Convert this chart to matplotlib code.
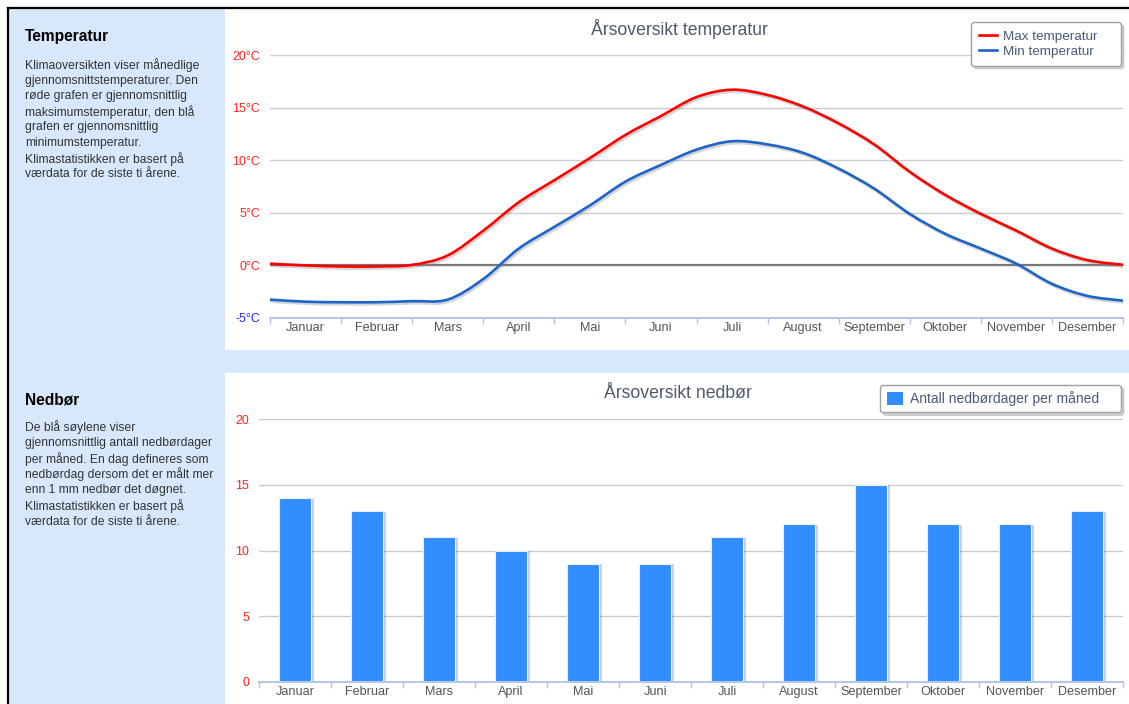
import matplotlib
matplotlib.use("Agg")
import matplotlib.pyplot as plt
import matplotlib.patheffects as pe
from matplotlib.patches import Rectangle, Patch, PathPatch
from matplotlib.lines import Line2D
from matplotlib.path import Path
import numpy as np

plt.rcParams['font.family'] = ['Liberation Sans', 'DejaVu Sans']

W, H = 1129, 704

months = ["Januar", "Februar", "Mars", "April", "Mai", "Juni", "Juli",
          "August", "September", "Oktober", "November", "Desember"]

# temperatur lest av ved hver halve måned, fra start januar (0) til slutt desember (12)
temp_pos = np.arange(0, 12.5, 0.5)
max_temp = [0.16, 0.0, -0.1, -0.1, 0.05, 0.95, 3.3, 6.0, 8.1, 10.2, 12.4, 14.2, 16.0,
            16.7, 16.2, 15.1, 13.5, 11.5, 8.9, 6.7, 4.9, 3.3, 1.6, 0.5, 0.06]
min_temp = [-3.25, -3.45, -3.5, -3.5, -3.4, -3.25, -1.3, 1.6, 3.66, 5.7, 7.96, 9.55, 11.0,
            11.8, 11.5, 10.7, 9.2, 7.3, 4.9, 3.0, 1.6, 0.16, -1.75, -2.9, -3.35]

rain_days = [14, 13, 11, 10, 9, 9, 11, 12, 15, 12, 12, 13]

temp_ticks = [-5, 0, 5, 10, 15, 20]
temp_labels = ["-5°C", "0°C", "5°C", "10°C", "15°C", "20°C"]
rain_ticks = [0, 5, 10, 15, 20]

temp_text = ["Klimaoversikten viser månedlige",
             "gjennomsnittstemperaturer. Den",
             "røde grafen er gjennomsnittlig",
             "maksimumstemperatur, den blå",
             "grafen er gjennomsnittlig",
             "minimumstemperatur.",
             "Klimastatistikken er basert på",
             "værdata for de siste ti årene."]
rain_text = ["De blå søylene viser",
             "gjennomsnittlig antall nedbørdager",
             "per måned. En dag defineres som",
             "nedbørdag dersom det er målt mer",
             "enn 1 mm nedbør det døgnet.",
             "Klimastatistikken er basert på",
             "værdata for de siste ti årene."]

RED = "#FF0000"
BLUE = "#1E63C9"
BAR = "#318CFE"
AXIS = "#B4C8E6"
GRID = "#CCCCCC"
LABEL = "#555555"
TITLE = "#4E5A6A"
SIDE = "#D8E8FC"
LEGTXT = "#4A5A7A"


def fx(x):
    return x / W


def fy(y):
    return 1 - y / H


def smooth_path(xs, ys, k=1 / 6):
    # kurve gjennom punktene (Catmull-Rom som Bezier), slik som spline-grafen
    pts = np.column_stack([xs, ys])
    n = len(pts)
    verts = [pts[0]]
    codes = [Path.MOVETO]
    for i in range(n - 1):
        p0 = pts[max(i - 1, 0)]
        p1 = pts[i]
        p2 = pts[i + 1]
        p3 = pts[min(i + 2, n - 1)]
        verts += [p1 + (p2 - p0) * k, p2 - (p3 - p1) * k, p2]
        codes += [Path.CURVE4] * 3
    return Path(verts, codes)


fig = plt.figure(figsize=(W / 100, H / 100), dpi=100)
fig.patch.set_facecolor("white")

# bakgrunn og paneler
fig.add_artist(Rectangle((fx(8), 0), 1 - fx(8), fy(8), transform=fig.transFigure,
                         facecolor=SIDE, edgecolor="none", zorder=-3))
fig.add_artist(Rectangle((fx(225), fy(350.5)), 1 - fx(225), fy(9) - fy(350.5),
                         transform=fig.transFigure, facecolor="white", edgecolor="none", zorder=-2))
fig.add_artist(Rectangle((fx(225), 0), 1 - fx(225), fy(373),
                         transform=fig.transFigure, facecolor="white", edgecolor="none", zorder=-2))
fig.add_artist(Line2D([fx(8), 1], [fy(8), fy(8)], transform=fig.transFigure, color="black", lw=1.6))
fig.add_artist(Line2D([fx(8), fx(8)], [0, fy(8)], transform=fig.transFigure, color="black", lw=1.6))

# sidetekst
fig.text(fx(25), fy(37), "Temperatur", fontsize=11.2, fontweight="bold", color="black", va="center")
for i, line in enumerate(temp_text):
    fig.text(fx(25), fy(65 + i * 15.6), line, fontsize=8.7, color="#333333", va="center")
fig.text(fx(25), fy(400), "Nedbør", fontsize=11.2, fontweight="bold", color="black", va="center")
for i, line in enumerate(rain_text):
    fig.text(fx(25), fy(427 + i * 15.8), line, fontsize=8.7, color="#333333", va="center")


def style_axis(ax, ticks, yticks, ylabels, ycolors):
    for s in ["top", "right", "left"]:
        ax.spines[s].set_visible(False)
    ax.spines["bottom"].set_color(AXIS)
    ax.spines["bottom"].set_linewidth(1.5)
    ax.spines["bottom"].set_zorder(4)
    ax.set_xticks(ticks)
    ax.set_xticklabels([])
    ax.tick_params(axis="x", which="major", length=4, color=AXIS, width=1)
    ax.set_xticks([(ticks[i] + ticks[i + 1]) / 2 for i in range(len(ticks) - 1)], minor=True)
    ax.set_xticklabels(months, minor=True, fontsize=9.1, color=LABEL)
    ax.tick_params(axis="x", which="minor", length=0, pad=3)
    ax.set_yticks(yticks)
    ax.set_yticklabels(ylabels, fontsize=8.9)
    ax.tick_params(axis="y", length=0, pad=7)
    for lab, c in zip(ax.get_yticklabels(), ycolors):
        lab.set_color(c)
    ax.grid(axis="y", color=GRID, lw=1)
    ax.set_axisbelow(True)


# temperatur
ax1 = fig.add_axes([fx(270), fy(318), fx(1123) - fx(270), fy(55) - fy(318)])
ax1.set_facecolor("none")
ax1.set_xlim(0, 12)
ax1.set_ylim(-5, 20)
style_axis(ax1, np.arange(13), temp_ticks, temp_labels,
           ["#2222FF"] + ["#FF2020"] * 5)
ax1.axhline(0, color="#777777", lw=1.6, zorder=1)
shadow = [pe.SimpleLineShadow(offset=(1, -1.5), shadow_color="#888888", alpha=0.35), pe.Normal()]
for vals, col in [(max_temp, RED), (min_temp, BLUE)]:
    ax1.add_patch(PathPatch(smooth_path(temp_pos, vals), facecolor="none", edgecolor=col,
                            lw=1.9, path_effects=shadow, zorder=3, capstyle="round"))
handles1 = [Line2D([], [], color=RED, lw=1.9), Line2D([], [], color=BLUE, lw=1.9)]
ax1.legend(handles=handles1, labels=["Max temperatur    ", "Min temperatur    "],
           loc="upper right", bbox_to_anchor=(fx(1121), fy(22)),
           bbox_transform=fig.transFigure, fontsize=9.7, labelcolor=LEGTXT,
           frameon=True, fancybox=True, edgecolor="#A0A0A0", framealpha=1,
           shadow={"color": "#AAAAAA", "alpha": 0.5},
           handlelength=1.3, handletextpad=0.5, labelspacing=0.2,
           borderpad=0.6, borderaxespad=0)
fig.text(fx(679), fy(29), "Årsoversikt temperatur", fontsize=12.7, color=TITLE,
         ha="center", va="center")

# nedbør
ax2 = fig.add_axes([fx(259), fy(682), fx(1123) - fx(259), fy(419) - fy(682)])
ax2.set_facecolor("none")
ax2.set_xlim(-0.5, 11.5)
ax2.set_ylim(0, 20)
style_axis(ax2, np.arange(13) - 0.5, rain_ticks, [str(t) for t in rain_ticks],
           ["#FF2020"] * 5)
bars = ax2.bar(np.arange(12), rain_days, width=0.44, color=BAR, edgecolor="#E8F1FF",
               linewidth=0.8, zorder=3)
for b in bars:
    b.set_path_effects([pe.SimplePatchShadow(offset=(2.5, -0.5), shadow_rgbFace="#777777", alpha=0.35),
                        pe.Normal()])
ax2.legend(handles=[Patch(facecolor=BAR, edgecolor="none")],
           labels=["Antall nedbørdager per måned    "],
           loc="upper right", bbox_to_anchor=(fx(1121), fy(385)),
           bbox_transform=fig.transFigure, fontsize=10, labelcolor=LEGTXT,
           frameon=True, fancybox=True, edgecolor="#A0A0A0", framealpha=1,
           shadow={"color": "#AAAAAA", "alpha": 0.5},
           handlelength=1.2, handleheight=1.0, handletextpad=0.5,
           borderpad=0.45, borderaxespad=0)
fig.text(fx(678), fy(393), "Årsoversikt nedbør", fontsize=12.7, color=TITLE,
         ha="center", va="center")

fig.savefig("out.png", dpi=100, facecolor=fig.get_facecolor())
